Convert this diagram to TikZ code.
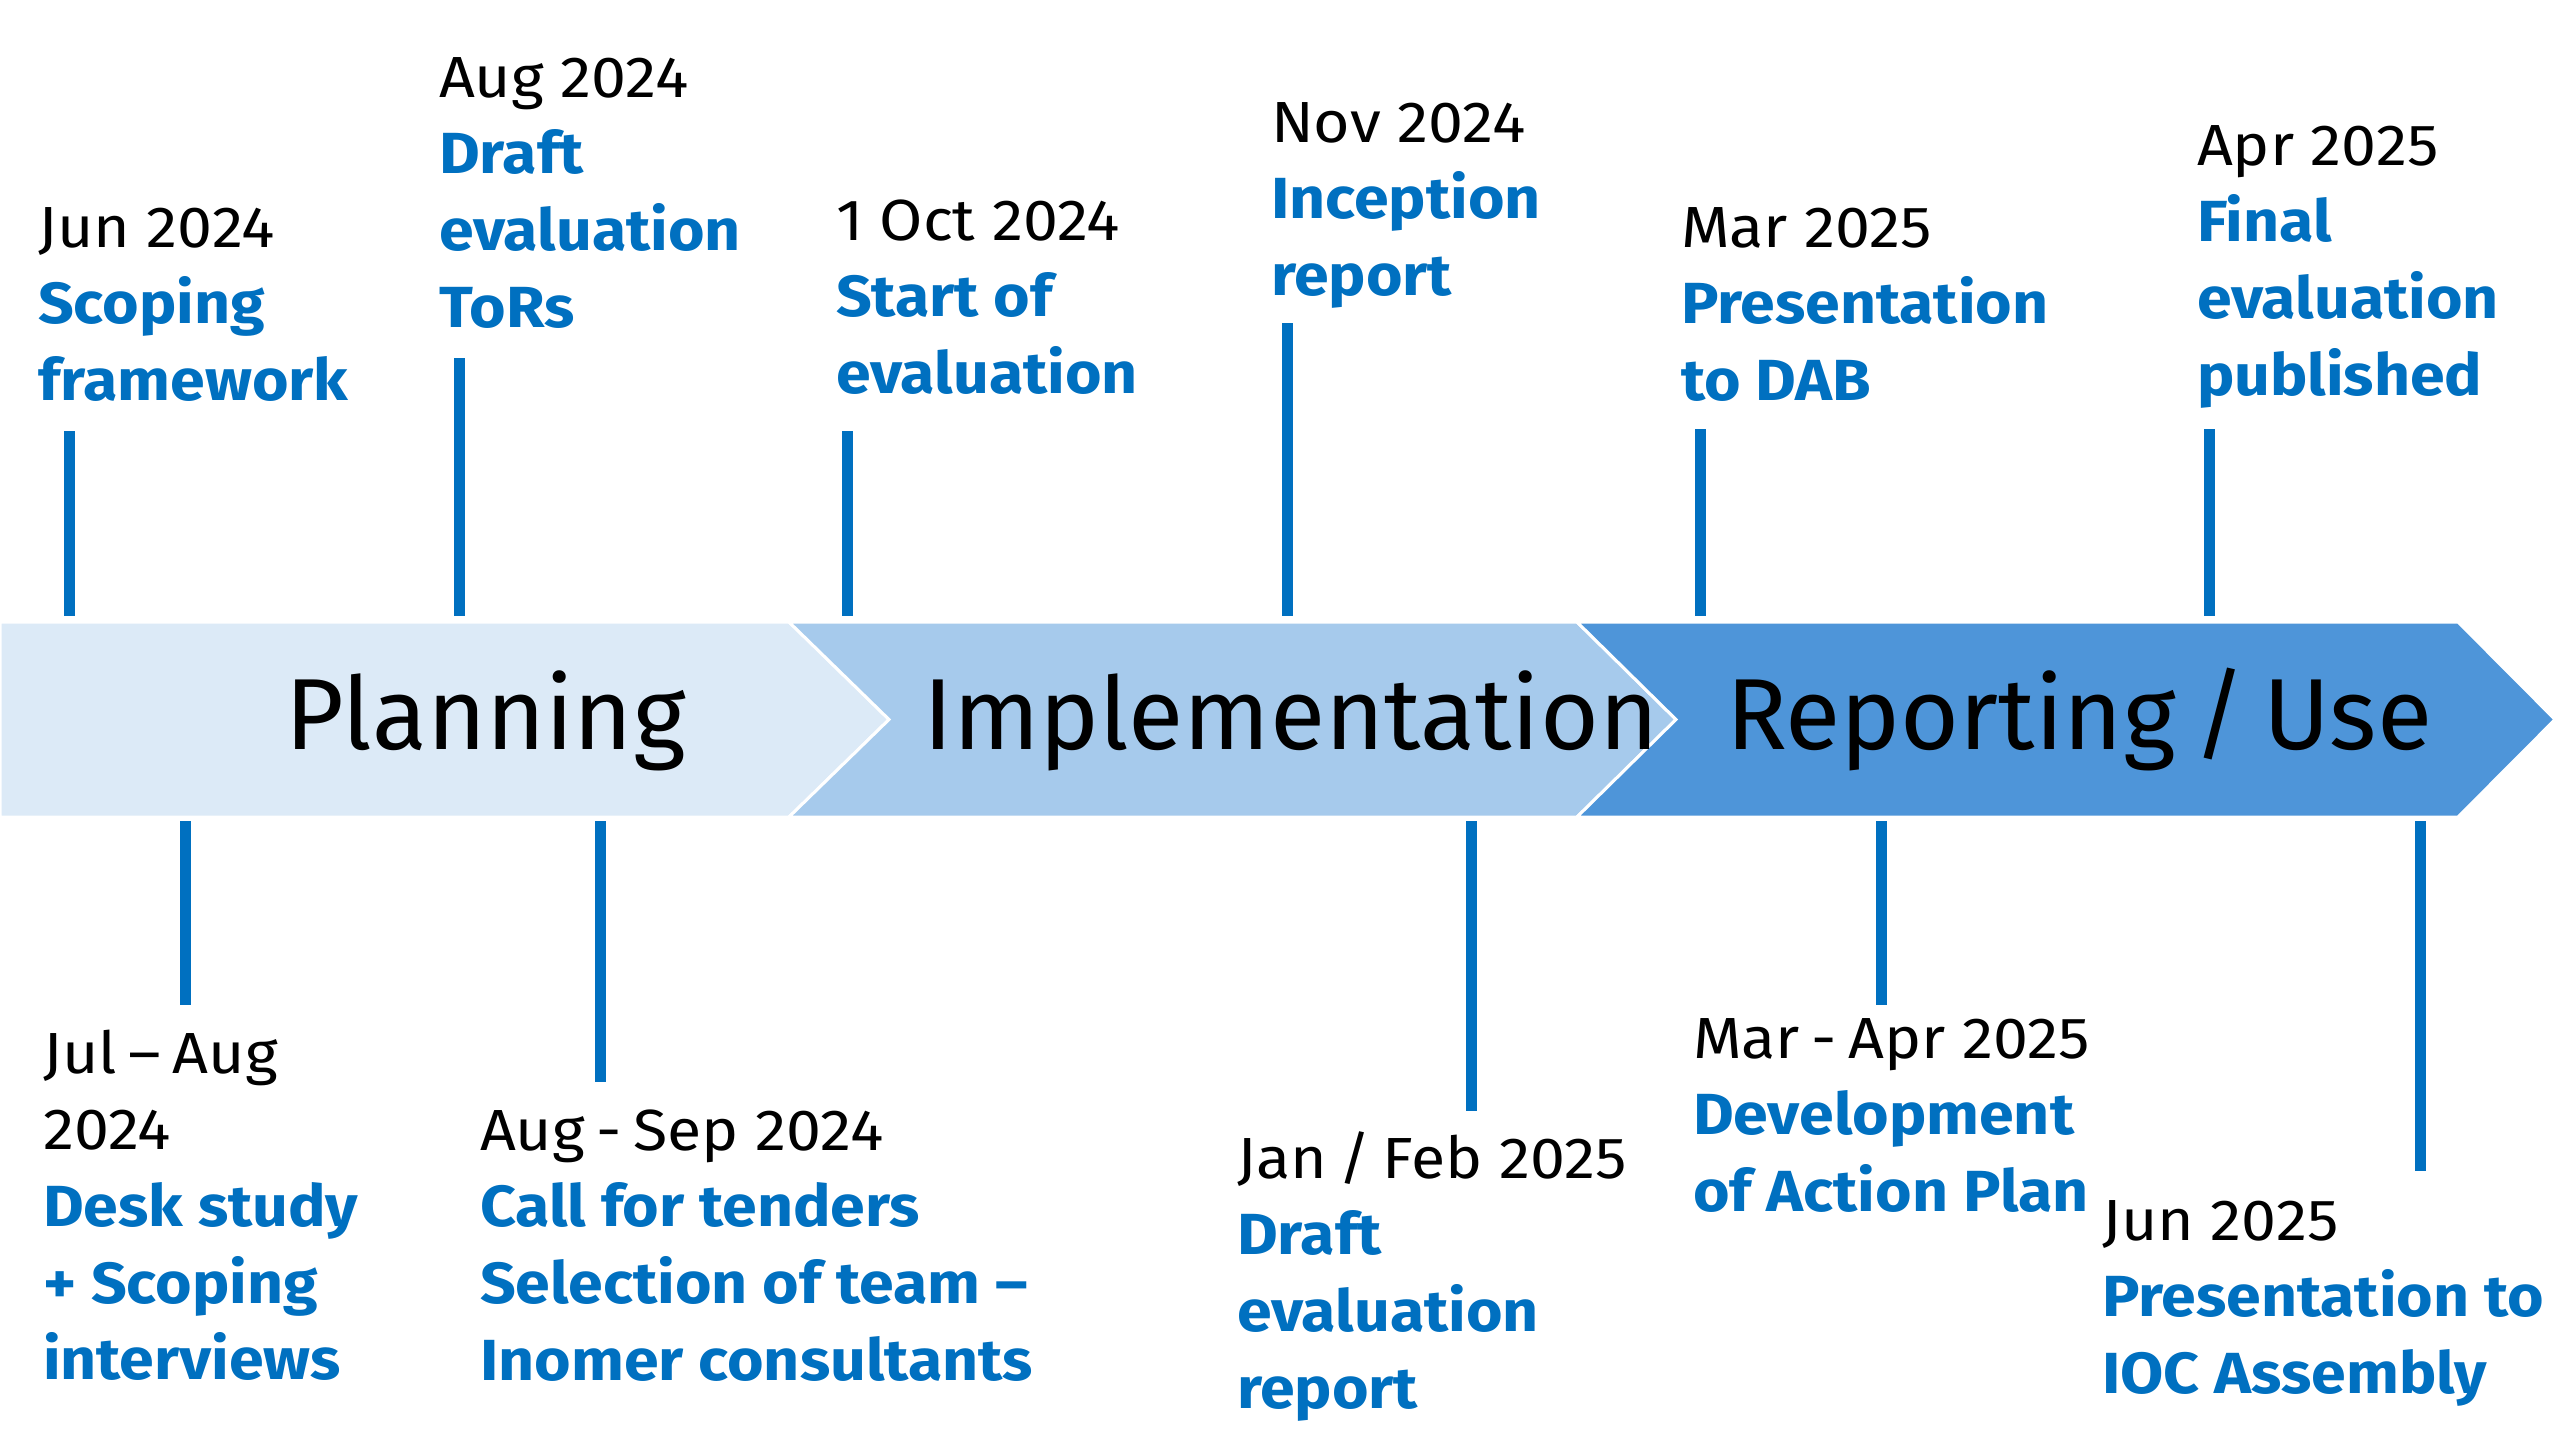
\documentclass[tikz,border=0pt]{standalone}
\usepackage{fontspec}
\setmainfont{Fira Sans}
\newfontfamily\tlfont[FakeStretch=1.08]{Fira Sans}
\definecolor{tlblue}{HTML}{0070C0}
\definecolor{phaseA}{HTML}{DCEAF7}
\definecolor{phaseB}{HTML}{A6CAEC}
\definecolor{phaseC}{HTML}{4E95D9}
\newcommand\tldate{\tlfont\fontsize{58}{76.7}\selectfont\color{black}}
\newcommand\tldesc{\tlfont\fontsize{58}{76.7}\selectfont\bfseries\color{tlblue}}
\newcommand\tlblock[1]{\vtop{\baselineskip=76.7pt\lineskiplimit=-200pt\lineskip=0pt #1}}
\newcommand\dl[1]{\hbox{\tldate #1}}
\newcommand\bl[1]{\hbox{\tldesc #1}}
\newcommand\tk{\kern-5pt}
\begin{document}
\begin{tikzpicture}[x=1pt,y=-1pt,
  phase/.style={draw=white, line width=3pt, line join=miter},
  tickline/.style={draw=tlblue, line width=11pt},
  lbl/.style={anchor=base west, inner sep=0pt, outer sep=0pt},
  phasetext/.style={anchor=base west, inner sep=0pt, font=\fontsize{101}{120}\selectfont}]
\useasboundingbox[fill=white] (0,0) rectangle (2560,1440);

% phase chevrons
\path[phase, fill=phaseA] (0,622) -- (789,622) -- (889,719.5) -- (789,817) -- (0,817) -- cycle;
\path[phase, fill=phaseB] (789,622) -- (1577,622) -- (1676,719.5) -- (1577,817) -- (789,817) -- (889,719.5) -- cycle;
\path[phase, fill=phaseC] (1577,622) -- (2458,622) -- (2555,719.5) -- (2458,817) -- (1577,817) -- (1676,719.5) -- cycle;

\node[phasetext] (planning) at (285,749) {Planning};
\node[phasetext] (implementation) at (923,749) {Implementation};
\node[phasetext] (reporting) at (1726,749) {Reporting\hspace{-9pt} / \hspace{-9pt}Use};

% top ticks
\coordinate (ta1) at (69,431);   \coordinate (tb1) at (69,616);
\coordinate (ta2) at (459,358);  \coordinate (tb2) at (459,616);
\coordinate (ta3) at (847,431);  \coordinate (tb3) at (847,616);
\coordinate (ta4) at (1287,323); \coordinate (tb4) at (1287,616);
\coordinate (ta5) at (1700,429); \coordinate (tb5) at (1700,616);
\coordinate (ta6) at (2209,429); \coordinate (tb6) at (2209,616);
\foreach \i in {1,...,6} {\draw[tickline] (ta\i) -- (tb\i);}

% bottom ticks
\coordinate (ba1) at (185,821);  \coordinate (bb1) at (185,1005);
\coordinate (ba2) at (600,821);  \coordinate (bb2) at (600,1082);
\coordinate (ba3) at (1471,821); \coordinate (bb3) at (1471,1111);
\coordinate (ba4) at (1881,821); \coordinate (bb4) at (1881,1005);
\coordinate (ba5) at (2420,821); \coordinate (bb5) at (2420,1171);
\foreach \i in {1,...,5} {\draw[tickline] (ba\i) -- (bb\i);}

% top labels
\node[lbl] (jun24) at (38,247) {\tlblock{\dl{Jun 2024}\bl{Scoping}\bl{framework}}};
\node[lbl] (aug24) at (439,97) {\tlblock{\dl{Aug 2024}\bl{Draft}\bl{evaluation}\bl{ToRs}}};
\node[lbl] (oct24) at (836,240) {\tlblock{\dl{1 Oct 2024}\bl{Start of}\bl{evaluation}}};
\node[lbl] (nov24) at (1271,142) {\tlblock{\dl{Nov 2024}\bl{Inception}\bl{report}}};
\node[lbl] (mar25) at (1681,247) {\tlblock{\dl{Mar 2025}\bl{Presentation}\bl{to DAB}}};
\node[lbl] (apr25) at (2197,165) {\tlblock{\dl{Apr 2025}\bl{Final}\bl{evaluation}\bl{published}}};

% bottom labels
\node[lbl] (julaug) at (43,1073) {\tlblock{\dl{Jul\tk{} – \tk{}Aug}\dl{2024}\bl{Desk study}\bl{+ Scoping}\bl{interviews}}};
\node[lbl] (augsep) at (480,1150) {\tlblock{\dl{Aug\tk{} - \tk{}Sep 2024}\bl{Call for tenders}\bl{Selection of team –}\bl{Inomer consultants}}};
\node[lbl] (janfeb) at (1237,1178) {\tlblock{\dl{Jan\tk{} / \tk{}Feb 2025}\bl{Draft}\bl{evaluation}\bl{report}}};
\node[lbl] (marapr) at (1693,1058) {\tlblock{\dl{Mar\tk{} - \tk{}Apr 2025}\bl{Development}\bl{of Action Plan}}};
\node[lbl] (jun25) at (2102,1240) {\tlblock{\dl{Jun 2025}\bl{Presentation to}\bl{IOC Assembly}}};
\end{tikzpicture}
\end{document}
